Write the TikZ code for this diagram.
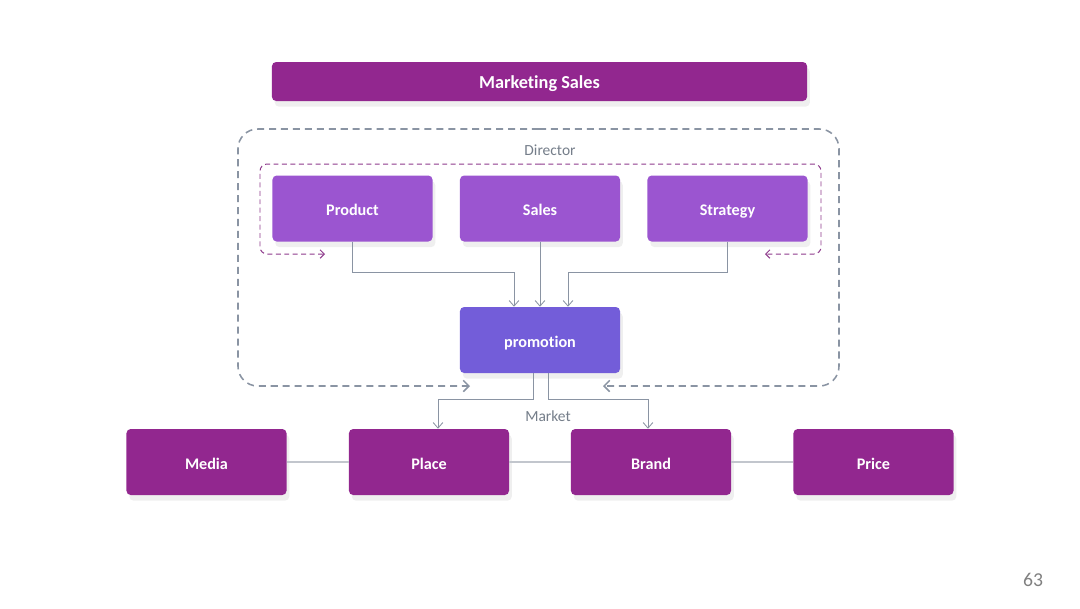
\documentclass[tikz,border=0pt]{standalone}
\usepackage{fontspec}
\setmainfont{Carlito}[Ligatures=NoCommon]
\usepackage{xcolor}
\usetikzlibrary{positioning, arrows.meta, shadows}

\definecolor{plum}{HTML}{92278F}
\definecolor{lilac}{HTML}{9B55D0}
\definecolor{iris}{HTML}{735DD9}
\definecolor{slate}{HTML}{8A94A3}
\definecolor{dashplum}{HTML}{8E3A8C}
\definecolor{lightline}{HTML}{C2C6CD}

\begin{document}
\begin{tikzpicture}[x=0.025cm, y=-0.025cm,
    box/.style={rounded corners=3pt, text=white, font=\bfseries\fontsize{11.5}{13}\selectfont,
        minimum width=4cm, minimum height=1.65cm, text height=1.1em, text depth=0.1em,
        drop shadow={opacity=0.12, shadow xshift=2pt, shadow yshift=-4pt}},
    conn/.style={draw=slate, line width=0.6pt, -{Straight Barb[length=4pt, width=7pt]}},
    note/.style={text=slate!85!black, font=\fontsize{11}{13}\selectfont}]
    \useasboundingbox[fill=white] (0,0) rectangle (1080,608);

    % title bar
    \node[box, fill=plum, minimum width=13.375cm, minimum height=0.975cm,
        font=\bfseries\fontsize{13}{15}\selectfont] (title) at (539.5,81.5) {Marketing Sales};

    % director group
    \draw[slate, line width=1.1pt, dash pattern=on 5pt off 3.5pt, rounded corners=14pt,
        -{Straight Barb[length=4pt, width=8pt]}] (539,129) -| (238,386) -- (470,386);
    \draw[slate, line width=1.1pt, dash pattern=on 5pt off 3.5pt, rounded corners=14pt,
        -{Straight Barb[length=4pt, width=8pt]}] (539,129) -| (839,386) -- (603,386);
    \node[note] (director) at (550,150) {Director};

    \draw[dashplum, line width=0.7pt, dash pattern=on 3.5pt off 2.5pt, rounded corners=5pt,
        -{Straight Barb[length=3pt, width=6pt]}] (540,164) -| (260,254) -- (325,254);
    \draw[dashplum, line width=0.7pt, dash pattern=on 3.5pt off 2.5pt, rounded corners=5pt,
        -{Straight Barb[length=3pt, width=6pt]}] (540,164) -| (821,254) -- (765,254);

    \node[box, fill=lilac] (product) at (352.5,208.5) {Product};
    \node[box, fill=lilac] (sales) at (540,208.5) {Sales};
    \node[box, fill=lilac] (strategy) at (727.5,208.5) {Strategy};
    \node[box, fill=iris] (promotion) at (540,340) {promotion};

    \draw[conn] (product.south) -- ++(0,31) -| ([xshift=-0.65cm]promotion.north);
    \draw[conn] (sales.south) -- (promotion.north);
    \draw[conn] (strategy.south) -- ++(0,31) -| ([xshift=0.7cm]promotion.north);

    % market row
    \node[box, fill=plum] (media) at (206.5,462) {Media};
    \node[box, fill=plum] (place) at (429,462) {Place};
    \node[box, fill=plum] (brand) at (651,462) {Brand};
    \node[box, fill=plum] (price) at (873.5,462) {Price};
    \node[note] (market) at (548,416) {Market};

    \draw[conn] ([xshift=-0.175cm]promotion.south) -- ++(0,26) -| ([xshift=0.225cm]place.north);
    \draw[conn] ([xshift=0.2cm]promotion.south) -- ++(0,26) -| ([xshift=-0.075cm]brand.north);

    \draw[lightline, line width=0.8pt] (media) -- (place);
    \draw[lightline, line width=0.8pt] (place) -- (brand);
    \draw[lightline, line width=0.8pt] (brand) -- (price);

    \node[text=gray, font=\fontsize{14}{16}\selectfont] (page) at (1033,580) {63};
\end{tikzpicture}
\end{document}
